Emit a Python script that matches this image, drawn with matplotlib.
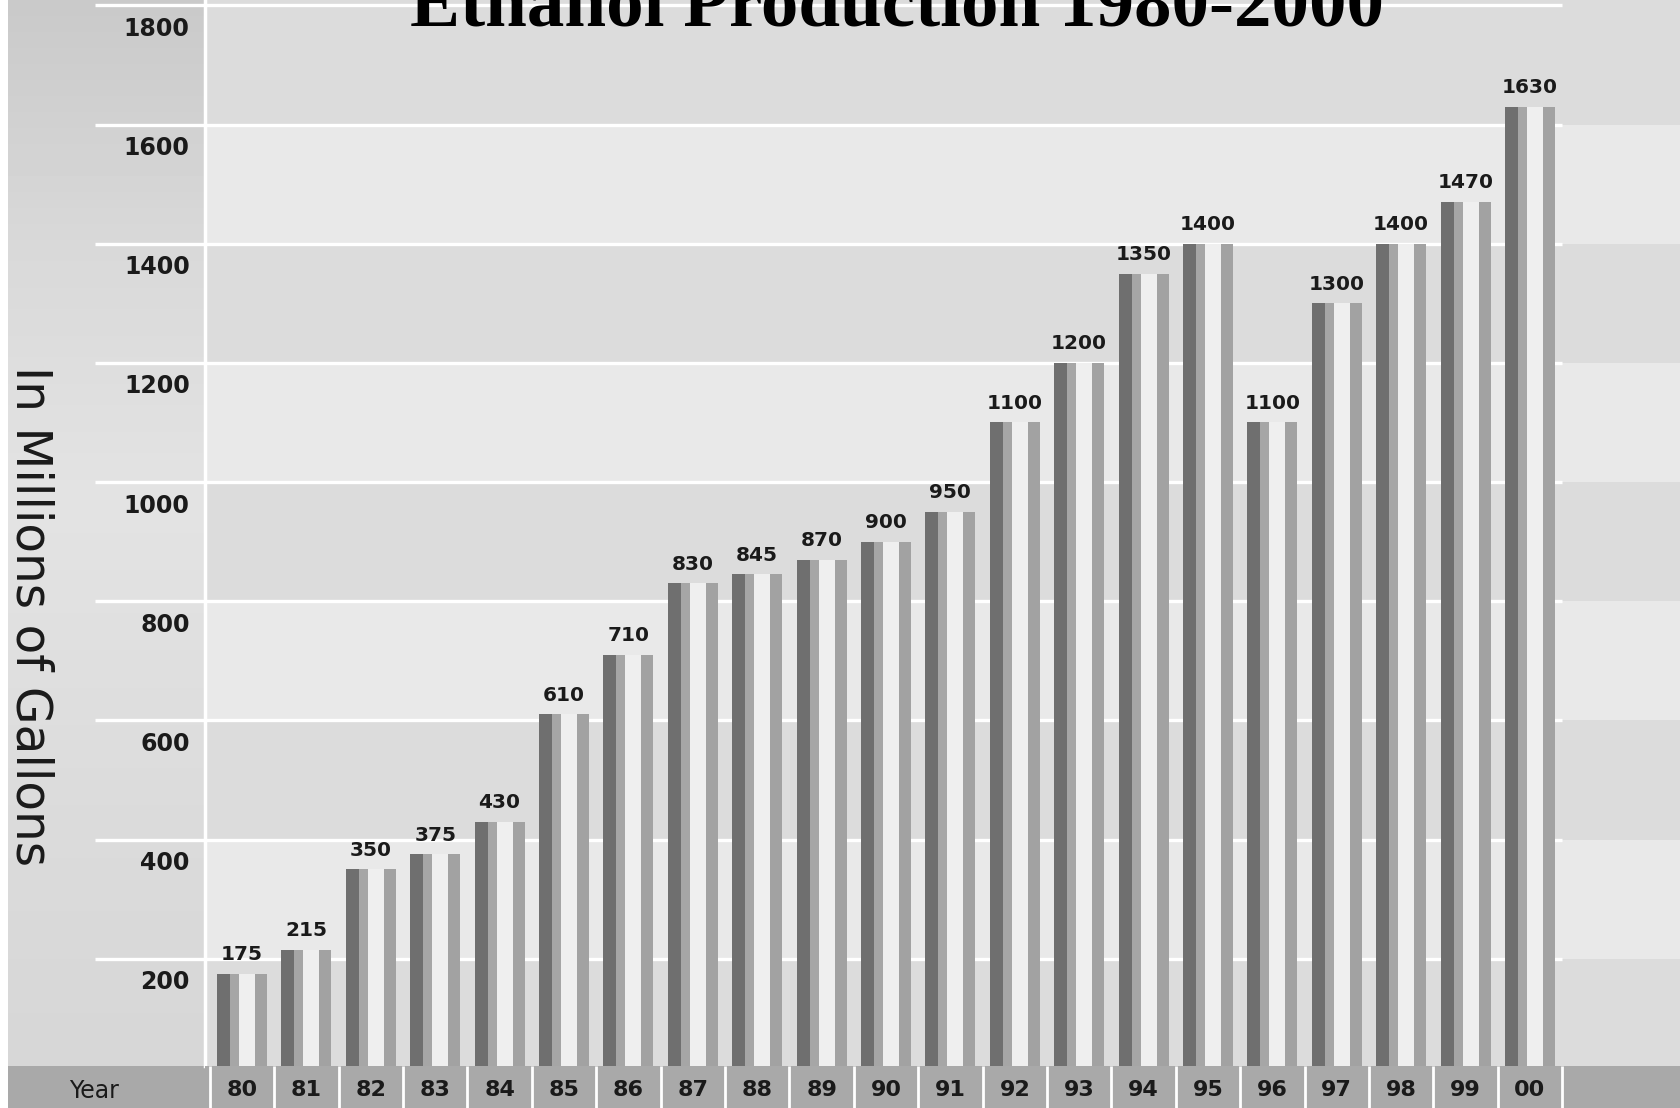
import numpy as np
import matplotlib
matplotlib.use("Agg")
import matplotlib.pyplot as plt
from matplotlib.patches import Rectangle
from matplotlib.transforms import ScaledTranslation

# data
years = ["80", "81", "82", "83", "84", "85", "86", "87", "88", "89", "90",
         "91", "92", "93", "94", "95", "96", "97", "98", "99", "00"]
production = [175, 215, 350, 375, 430, 610, 710, 830, 845, 870, 900,
              950, 1100, 1200, 1350, 1400, 1100, 1300, 1400, 1470, 1630]
grid_values = [200, 400, 600, 800, 1000, 1200, 1400, 1600, 1800]

W, H = 1680, 1108
fig = plt.figure(figsize=(W / 100, H / 100), dpi=100)
fig.patch.set_facecolor("white")

# background (sky strip on the left + "Year" cell), pixel coords
bg = fig.add_axes([0, 0, 1, 1], zorder=0)
bg.set_xlim(0, W)
bg.set_ylim(H, 0)
bg.axis("off")
yy = np.linspace(0, 1066, 200)
shade = np.interp(yy, [0, 250, 500, 800, 1066], [0.79, 0.85, 0.89, 0.86, 0.84])
sky = np.repeat(shade[:, None], 2, axis=1)
bg.imshow(sky, cmap="gray", vmin=0, vmax=1, extent=[8, 205, 1066, 0], aspect="auto")
bg.add_patch(Rectangle((8, 1066), 200, 42, facecolor="#a9a9a9", edgecolor="none"))
bg.text(94, 1091, "Year", ha="center", va="center", fontsize=17, color="#1a1a1a")

# main chart area
ax = fig.add_axes([205 / W, 42 / H, 1475 / W, 1066 / H], zorder=1)
x = np.arange(len(years))
ax.set_xlim(-0.575, 22.33)
ax.set_ylim(20, 1809)
ax.set_facecolor("#dcdcdc")

# alternating bands
for k, g in enumerate([0] + grid_values[:-1]):
    col = "#dcdcdc" if k % 2 == 0 else "#e9e9e9"
    ax.axhspan(g, g + 200, color=col, lw=0, zorder=0)
ax.hlines(grid_values, -2.28, 20.5, colors="white", lw=2.4, clip_on=False, zorder=1)

# striped bars
segs = [(0.202, "#6f6f6f"), (0.140, "#a6a6a6"), (0.248, "#efefef"), (0.186, "#a2a2a2")]
left = x - 0.388
for w, c in segs:
    ax.bar(left, production, width=w, align="edge", color=c, lw=0, zorder=2)
    left = left + w

for xi, v in zip(x, production):
    ax.annotate(str(v), (xi, v), xytext=(0, 7), textcoords="offset points",
                ha="center", va="bottom", fontsize=14.5, fontweight="bold",
                color="#1a1a1a", zorder=3)

ax.set_xticks([])
ax.set_yticks(grid_values)
ax.set_yticklabels([str(g) for g in grid_values], fontsize=17, fontweight="bold",
                   color="#1a1a1a")
ax.tick_params(axis="y", length=0, pad=11)
shift = ScaledTranslation(0, -0.21, fig.dpi_scale_trans)
for lab in ax.get_yticklabels():
    lab.set_transform(lab.get_transform() + shift)
for s in ["top", "right", "bottom"]:
    ax.spines[s].set_visible(False)
ax.spines["left"].set_color("white")
ax.spines["left"].set_linewidth(2.5)

# year row
ya = fig.add_axes([205 / W, 0, 1475 / W, 42 / H], zorder=2)
ya.set_xlim(ax.get_xlim())
ya.set_ylim(0, 1)
ya.set_facecolor("#a9a9a9")
ya.vlines(np.arange(-0.5, len(years)), 0, 1, colors="white", lw=2)
for xi, yr in zip(x, years):
    ya.text(xi, 0.42, yr, ha="center", va="center", fontsize=16, fontweight="bold",
            color="#1a1a1a")
ya.set_xticks([])
ya.set_yticks([])
for s in ya.spines.values():
    s.set_visible(False)

fig.text(897 / W, 1 - 25 / H, "Ethanol Production 1980-2000", ha="center", va="baseline",
         fontsize=54, fontweight="bold", family="Liberation Serif", color="black", zorder=5)
fig.text(30 / W, 1 - 616 / H, "In Millions of Gallons", rotation=270, ha="center",
         va="center", fontsize=35, color="#1a1a1a", zorder=5)

fig.savefig("out.png", dpi=100)
